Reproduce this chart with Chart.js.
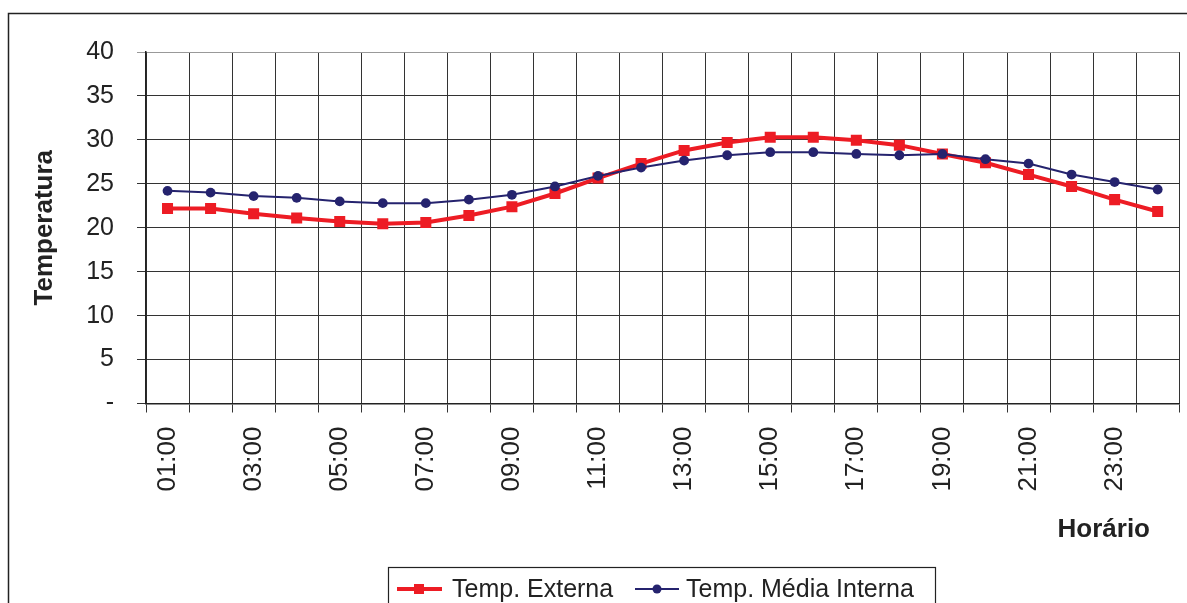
<!DOCTYPE html>
<html>
<head>
<meta charset="utf-8">
<script src="https://cdn.jsdelivr.net/npm/chart.js@4.4.1/dist/chart.umd.min.js"></script>
<style>
  body { margin: 0; background: #fff; }
  canvas { display: block; }
</style>
</head>
<body>
<canvas id="myChart" width="1187" height="603"></canvas>
<script>
const hours = ['01:00', '02:00', '03:00', '04:00', '05:00', '06:00', '07:00', '08:00',
               '09:00', '10:00', '11:00', '12:00', '13:00', '14:00', '15:00', '16:00',
               '17:00', '18:00', '19:00', '20:00', '21:00', '22:00', '23:00', '24:00'];
const tempExterna = [22.2, 22.2, 21.6, 21.1, 20.7, 20.45, 20.6, 21.4, 22.4, 23.9, 25.65, 27.3,
                     28.8, 29.7, 30.3, 30.3, 29.95, 29.4, 28.4, 27.4, 26.05, 24.7, 23.2, 21.85];
const tempInterna = [24.2, 24.0, 23.6, 23.4, 23.0, 22.8, 22.8, 23.2, 23.75, 24.7, 25.9, 26.85,
                     27.65, 28.25, 28.6, 28.6, 28.4, 28.25, 28.4, 27.8, 27.3, 26.05, 25.2, 24.35];
const seriesNames = ['Temp. Externa', 'Temp. Média Interna'];
const yTitle = 'Temperatura';
const xTitle = 'Horário';

const RED = '#ED1C24';
const BLUE = '#25236E';
const FONT = "'Liberation Sans', Arial, sans-serif";

// frame, x title and the excel-style legend
const extras = {
    id: 'extras',
    beforeDraw(chart) {
        const ctx = chart.ctx;
        ctx.save();
        ctx.fillStyle = '#fff';
        ctx.fillRect(0, 0, chart.width, chart.height);
        ctx.strokeStyle = '#222';
        ctx.lineWidth = 1.5;
        ctx.strokeRect(8.5, 13.5, 1300, 700);
        ctx.restore();
    },
    afterDraw(chart) {
        const ctx = chart.ctx;
        ctx.save();
        ctx.fillStyle = '#222';
        ctx.font = 'bold 26px ' + FONT;
        ctx.textAlign = 'right';
        ctx.textBaseline = 'alphabetic';
        ctx.fillText(xTitle, 1150, 537);

        // legend box
        ctx.fillStyle = '#fff';
        ctx.fillRect(388.5, 567.5, 547, 60);
        ctx.strokeStyle = '#222';
        ctx.lineWidth = 1.2;
        ctx.strokeRect(388.5, 567.5, 547, 60);

        const ly = 589;
        ctx.font = '25px ' + FONT;
        ctx.textAlign = 'left';
        ctx.textBaseline = 'middle';

        ctx.strokeStyle = RED;
        ctx.lineWidth = 4;
        ctx.beginPath(); ctx.moveTo(397, ly); ctx.lineTo(442, ly); ctx.stroke();
        ctx.fillStyle = RED;
        ctx.fillRect(414, ly - 5, 10, 10);
        ctx.fillStyle = '#222';
        ctx.fillText(seriesNames[0], 452, ly + 1);

        ctx.strokeStyle = BLUE;
        ctx.lineWidth = 2;
        ctx.beginPath(); ctx.moveTo(635, ly); ctx.lineTo(679, ly); ctx.stroke();
        ctx.fillStyle = BLUE;
        ctx.beginPath(); ctx.arc(657, ly, 4.5, 0, Math.PI * 2); ctx.fill();
        ctx.fillStyle = '#222';
        ctx.fillText(seriesNames[1], 686, ly + 1);
        ctx.restore();
    }
};

const canvas = document.getElementById('myChart');

const myChart = new Chart(canvas, {
    type: 'line',
    data: {
        labels: hours,
        datasets: [
            {
                label: seriesNames[0],
                data: tempExterna,
                borderColor: RED,
                backgroundColor: RED,
                borderWidth: 4,
                pointStyle: 'rect',
                pointRadius: 7.8,
                pointBorderWidth: 0,
                order: 1
            },
            {
                label: seriesNames[1],
                data: tempInterna,
                borderColor: BLUE,
                backgroundColor: BLUE,
                borderWidth: 2,
                pointStyle: 'circle',
                pointRadius: 4.9,
                pointBorderWidth: 0,
                order: 0
            }
        ]
    },
    plugins: [extras],
    options: {
        responsive: false,
        animation: false,
        layout: { padding: { left: 0, top: 52, right: 4, bottom: 0 } },
        plugins: {
            legend: { display: false },
            tooltip: { enabled: false }
        },
        scales: {
            x: {
                offset: true,
                afterFit(scale) {
                    scale.height = 199.5;
                    scale.paddingLeft = 0;
                    scale.paddingRight = 0;
                },
                grid: {
                    offset: true,
                    tickLength: 9,
                    color: (c) => c.index === hours.length ? '#aaa' : '#333'
                },
                border: { color: '#222', width: 1.5 },
                ticks: {
                    autoSkip: false,
                    maxRotation: 90,
                    minRotation: 90,
                    padding: 14,
                    color: '#222',
                    font: { family: FONT, size: 26 },
                    callback: (v, i) => (i % 2 === 0 ? hours[i] : '')
                }
            },
            y: {
                min: 0,
                max: 40,
                afterFit(scale) { scale.width = 146; },
                grid: {
                    tickLength: 9,
                    color: (c) => c.tick && c.tick.value === 40 ? '#999' : '#333'
                },
                border: { color: '#222', width: 1.5 },
                ticks: {
                    stepSize: 5,
                    padding: 23,
                    color: '#222',
                    font: { family: FONT, size: 25 },
                    callback: (v) => (v === 0 ? '-' : v)
                },
                title: {
                    display: true,
                    text: yTitle,
                    color: '#222',
                    font: { family: FONT, size: 26, weight: 'bold' },
                    padding: { top: 29, bottom: 0 }
                }
            }
        }
    }
});
</script>
</body>
</html>
